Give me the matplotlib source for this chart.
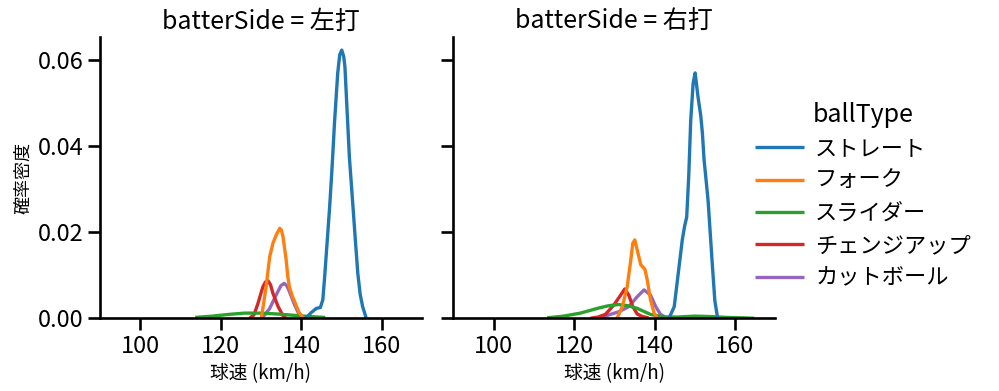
import matplotlib
matplotlib.use("Agg")
import matplotlib.pyplot as plt

plt.rcParams["font.family"] = ["Noto Sans CJK JP", "DejaVu Sans"]
plt.rcParams.update({
    "axes.linewidth": 1.9,
    "xtick.major.width": 1.9,
    "ytick.major.width": 1.9,
    "xtick.major.size": 8.5,
    "ytick.major.size": 8.5,
    "lines.linewidth": 2.4,
})

# ── Data (KDE curves, km/h vs density) ────────────────────────────────────────
ball_types = ["ストレート", "フォーク", "スライダー", "チェンジアップ", "カットボール"]
colors = ["#1f77b4", "#ff7f0e", "#2ca02c", "#d62728", "#9467bd"]
sides = ["左打", "右打"]

# 左打
left_straight_x = [141.1, 142.5, 143.8, 144.8, 145.4, 145.8, 146.5, 147.1, 147.7, 148.3, 149.1,
                   149.6, 150.1, 150.6, 150.9, 151.5, 152.0, 152.9, 153.5, 154.1, 154.7, 155.3, 156.2]
left_straight_y = [0.0, 0.0013, 0.0023, 0.0025, 0.0043, 0.0089, 0.018, 0.0259, 0.035, 0.0453, 0.0569,
                   0.0612, 0.0623, 0.0608, 0.0584, 0.047, 0.0375, 0.0259, 0.018, 0.0104, 0.0055, 0.0027, 0.0]
left_fork_x = [130.1, 130.7, 131.3, 132.2, 133.0, 133.8, 134.7, 135.1, 135.5, 136.3, 136.7,
               137.1, 137.8, 138.4, 139.0, 139.6, 140.6]
left_fork_y = [0.0, 0.0035, 0.0073, 0.0143, 0.0174, 0.0193, 0.0209, 0.0205, 0.019, 0.0135, 0.0097,
               0.0073, 0.0052, 0.0039, 0.0024, 0.0012, 0.0]
left_slider_x = [113.7, 118.0, 122.0, 126.0, 130.0, 134.0, 138.0, 142.0, 146.0]
left_slider_y = [0.0002, 0.0005, 0.0009, 0.0012, 0.0012, 0.0010, 0.0007, 0.0004, 0.0002]
left_change_x = [127.2, 128.3, 129.3, 130.5, 131.2, 131.8, 132.4, 133.0, 134.3, 135.5, 136.3]
left_change_y = [0.0, 0.0008, 0.0035, 0.0073, 0.0085, 0.0087, 0.0078, 0.0058, 0.0027, 0.0006, 0.0]
left_cut_x = [130.1, 131.0, 132.2, 133.8, 135.0, 135.8, 136.5, 137.1, 138.4, 139.6, 140.4]
left_cut_y = [0.0, 0.0008, 0.0023, 0.0054, 0.0076, 0.0081, 0.0075, 0.0062, 0.0031, 0.0007, 0.0]

# 右打
right_straight_x = [143.6, 144.9, 146.1, 146.9, 147.5, 148.0, 148.5, 149.0, 149.6, 150.1, 150.8,
                    151.5, 151.9, 152.3, 153.3, 154.4, 155.0, 155.7]
right_straight_y = [0.0, 0.0027, 0.012, 0.0182, 0.0215, 0.0235, 0.0329, 0.046, 0.0546, 0.057, 0.0515,
                    0.047, 0.043, 0.037, 0.0275, 0.012, 0.004, 0.0]
right_fork_x = [130.7, 132.0, 133.2, 134.1, 134.6, 135.1, 135.9, 136.6, 137.6, 138.2, 139.0, 139.9, 140.7]
right_fork_y = [0.0, 0.0027, 0.0073, 0.0135, 0.0174, 0.0182, 0.0151, 0.0124, 0.0114, 0.0089, 0.0043, 0.0012, 0.0]
right_slider_x = [113.3, 117.4, 121.6, 125.8, 128.5, 131.0, 133.5, 135.7, 139.0, 142.4, 146.0,
                  150.0, 154.0, 158.0, 162.0, 164.8]
right_slider_y = [0.0001, 0.0005, 0.0012, 0.0023, 0.0029, 0.0032, 0.0029, 0.0023, 0.0009, 0.0003, 0.0003,
                  0.0005, 0.0004, 0.0002, 0.0001, 0.0]
right_change_x = [124.1, 126.0, 127.8, 129.9, 131.6, 132.6, 133.6, 134.6, 135.7, 137.0, 138.5]
right_change_y = [0.0, 0.0003, 0.0009, 0.0031, 0.0054, 0.0068, 0.0054, 0.0027, 0.0010, 0.0004, 0.0001]
right_cut_x = [125.8, 128.0, 131.1, 133.6, 135.7, 137.4, 139.0, 140.3, 141.5, 142.8, 143.6]
right_cut_y = [0.0, 0.0006, 0.0015, 0.0027, 0.005, 0.0066, 0.0054, 0.0027, 0.0009, 0.0002, 0.0]

curves = {
    "左打": [(left_straight_x, left_straight_y), (left_fork_x, left_fork_y),
            (left_slider_x, left_slider_y), (left_change_x, left_change_y),
            (left_cut_x, left_cut_y)],
    "右打": [(right_straight_x, right_straight_y), (right_fork_x, right_fork_y),
            (right_slider_x, right_slider_y), (right_change_x, right_change_y),
            (right_cut_x, right_cut_y)],
}

x_ticks = [100, 120, 140, 160]
y_ticks = [0.00, 0.02, 0.04, 0.06]

fig, axes = plt.subplots(1, 2, figsize=(9.99, 3.91), dpi=100, sharey=True)
fig.subplots_adjust(left=0.1, right=0.776, bottom=0.186, top=0.906, wspace=0.098)

for ax, side in zip(axes, sides):
    # seaborn draws hue levels back to front
    for (xs, ys), c, name in list(zip(curves[side], colors, ball_types))[::-1]:
        ax.plot(xs, ys, color=c, label=name, solid_capstyle="butt")
    ax.set_xlim(90, 170)
    ax.set_ylim(0, 0.0654)
    ax.set_xticks(x_ticks)
    ax.set_yticks(y_ticks)
    ax.set_yticklabels([f"{v:.2f}" for v in y_ticks])
    ax.tick_params(labelsize=17)
    ax.spines["top"].set_visible(False)
    ax.spines["right"].set_visible(False)
    ax.set_title(f"batterSide = {side}", fontsize=18)
    ax.set_xlabel("球速 (km/h)", fontsize=13.5)

axes[0].set_ylabel("確率密度", fontsize=13)
axes[1].tick_params(axis="y", labelleft=False)

handles, labels = axes[0].get_legend_handles_labels()
order = [labels.index(n) for n in ball_types]
leg = fig.legend([handles[i] for i in order], ball_types, title="ballType",
                 loc="center left", bbox_to_anchor=(0.736, 0.5), frameon=False,
                 fontsize=16, title_fontsize=18, handlelength=2.2, handletextpad=0.5,
                 labelspacing=0.42)

fig.savefig("out.png", dpi=100)
